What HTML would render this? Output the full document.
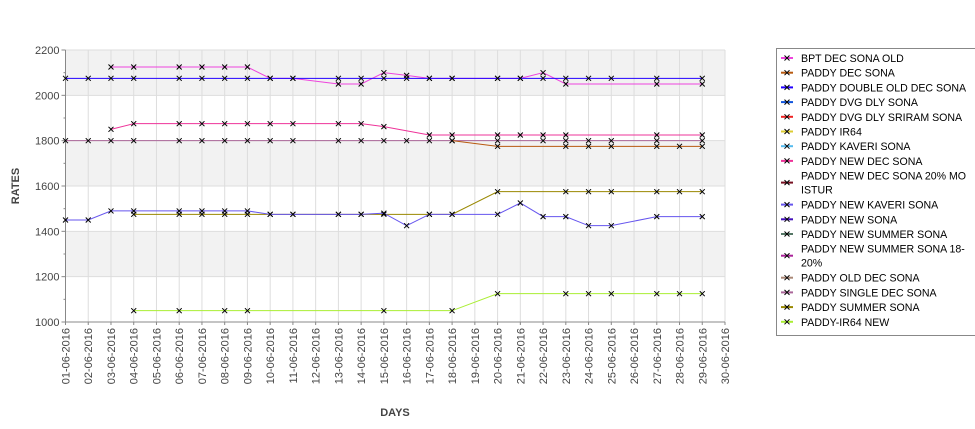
<!DOCTYPE html>
<html><head><meta charset="utf-8"><style>
body{margin:0;background:#fff;font-family:"Liberation Sans","DejaVu Sans",sans-serif}
svg{display:block}
</style></head><body>
<svg id="c" width="975" height="429" xmlns="http://www.w3.org/2000/svg"></svg>
<script>
const days=["01-06-2016","02-06-2016","03-06-2016","04-06-2016","05-06-2016","06-06-2016","07-06-2016","08-06-2016","09-06-2016","10-06-2016","11-06-2016","12-06-2016","13-06-2016","14-06-2016","15-06-2016","16-06-2016","17-06-2016","18-06-2016","19-06-2016","20-06-2016","21-06-2016","22-06-2016","23-06-2016","24-06-2016","25-06-2016","26-06-2016","27-06-2016","28-06-2016","29-06-2016","30-06-2016"];
const yTicks=[1000,1200,1400,1600,1800,2000,2200];
const legendNames=["BPT DEC SONA OLD","PADDY DEC SONA","PADDY DOUBLE OLD DEC SONA","PADDY DVG DLY SONA","PADDY DVG DLY SRIRAM SONA","PADDY IR64","PADDY KAVERI SONA","PADDY NEW DEC SONA","PADDY NEW DEC SONA 20% MO|ISTUR","PADDY NEW KAVERI SONA","PADDY NEW SONA","PADDY NEW SUMMER SONA","PADDY NEW SUMMER SONA 18-|20%","PADDY OLD DEC SONA","PADDY SINGLE DEC SONA","PADDY SUMMER SONA","PADDY-IR64 NEW"];
const legendColors=["#ee44dd","#b85a10","#2200ff","#1155dd","#ee2222","#ddcc33","#55bbee","#ee3399","#771122","#6655ee","#4411bb","#557766","#aa2299","#aa8877","#aa6699","#998800","#aaee33"];
const bptDecSonaOld=[[3,2125],[4,2125],[6,2125],[7,2125],[8,2125],[9,2125],[10,2075],[11,2075],[13,2050],[14,2050],[15,2100],[16,2088],[17,2075],[18,2075],[20,2075],[21,2075],[22,2100],[23,2050],[27,2050],[29,2050]];
const doubleOldDecSona=[[1,2075],[2,2075],[3,2075],[4,2075],[6,2075],[7,2075],[8,2075],[9,2075],[10,2075],[11,2075],[13,2075],[14,2075],[15,2075],[16,2075],[17,2075],[18,2075],[20,2075],[21,2075],[22,2075],[23,2075],[24,2075],[25,2075],[27,2075],[29,2075]];
const newDecSona=[[3,1850],[4,1875],[6,1875],[7,1875],[8,1875],[9,1875],[10,1875],[11,1875],[13,1875],[14,1875],[15,1862],[17,1825],[18,1825],[20,1825],[21,1825],[22,1825],[23,1825],[27,1825],[29,1825]];
const singleDecSona=[[1,1800],[2,1800],[3,1800],[4,1800],[6,1800],[7,1800],[8,1800],[9,1800],[10,1800],[11,1800],[13,1800],[14,1800],[15,1800],[16,1800],[17,1800],[18,1800],[20,1800],[22,1800],[23,1800],[24,1800],[25,1800],[27,1800],[29,1800]];
const decSona=[[18,1800],[20,1775],[23,1775],[24,1775],[25,1775],[27,1775],[28,1775],[29,1775]];
const summerSona=[[4,1475],[6,1475],[7,1475],[8,1475],[9,1475],[10,1475],[11,1475],[13,1475],[14,1475],[15,1475],[17,1475],[18,1475],[20,1575],[23,1575],[24,1575],[25,1575],[27,1575],[28,1575],[29,1575]];
const newKaveriSona=[[1,1450],[2,1450],[3,1490],[4,1490],[6,1490],[7,1490],[8,1490],[9,1490],[10,1475],[11,1475],[13,1475],[14,1475],[15,1480],[16,1425],[17,1475],[18,1475],[20,1475],[21,1525],[22,1465],[23,1465],[24,1425],[25,1425],[27,1465],[29,1465]];
const ir64New=[[4,1050],[6,1050],[8,1050],[9,1050],[15,1050],[18,1050],[20,1125],[23,1125],[24,1125],[25,1125],[27,1125],[28,1125],[29,1125]];
const seriesList=[[singleDecSona,"#aa6699","paddy-single-dec-sona"],[decSona,"#b85a10","paddy-dec-sona"],[newDecSona,"#ee3399","paddy-new-dec-sona"],[bptDecSonaOld,"#ee44dd","bpt-dec-sona-old"],[doubleOldDecSona,"#2200ff","paddy-double-old-dec-sona"],[summerSona,"#998800","paddy-summer-sona"],[newKaveriSona,"#6655ee","paddy-new-kaveri-sona"],[ir64New,"#aaee33","paddy-ir64-new"]];

const svg=document.getElementById('c');const NS="http://www.w3.org/2000/svg";
const L=65.5,R=725,T=50,B=322;
const x=d=>L+(d-1)*(R-L)/29;
const y=v=>B-(v-1000)*(B-T)/1200;
function el(t,a,p){const e=document.createElementNS(NS,t);for(const k in a)e.setAttribute(k,a[k]);(p||svg).appendChild(e);return e;}
for(let i=0;i<yTicks.length-1;i++){
 if(i%2===1){const r=el('rect',{x:L,y:y(yTicks[i+1]),width:R-L,height:y(yTicks[i])-y(yTicks[i+1]),fill:'#f2f2f2'});
 
 }
}
days.forEach((d,i)=>{const g=el('line',{x1:x(i+1),x2:x(i+1),y1:T,y2:B,stroke:'#dddddd','stroke-width':1});

});
yTicks.forEach(v=>{const g=el('line',{x1:L,x2:R,y1:y(v),y2:y(v),stroke:'#dddddd','stroke-width':1});


const t=el('text',{x:L-6,y:y(v)+4,'text-anchor':'end','font-size':11,fill:'#444'});t.textContent=v;


el('line',{x1:L-4,x2:L,y1:y(v),y2:y(v),stroke:'#888'});
if(v<2200)el('line',{x1:L-2,x2:L,y1:y(v+100),y2:y(v+100),stroke:'#888'});});
el('line',{x1:L,x2:L,y1:T,y2:B,stroke:'#888'});
el('line',{x1:L,x2:R,y1:B,y2:B,stroke:'#888'});
days.forEach((d,i)=>{const xx=x(i+1);el('line',{x1:xx,x2:xx,y1:B,y2:B+3,stroke:'#888'});
const t=el('text',{x:0,y:0,transform:`translate(${xx+4},${B+6}) rotate(-90)`,'text-anchor':'end','font-size':11,fill:'#444'});t.textContent=d;

});
const yt=el('text',{x:0,y:0,transform:`translate(19,186) rotate(-90)`,'text-anchor':'middle','font-size':11,'font-weight':'bold',fill:'#444'});yt.textContent='RATES';


const xt=el('text',{x:395,y:416,'text-anchor':'middle','font-size':11,'font-weight':'bold',fill:'#444'});xt.textContent='DAYS';


seriesList.forEach(([data,col,name])=>{
 const p=el('polyline',{points:data.map(([d,v])=>x(d)+','+y(v)).join(' '),fill:'none',stroke:col,'stroke-width':1});
 
 
 data.forEach(([d,v])=>{const m=el('path',{d:`M${x(d)-2.5},${y(v)-2.5}l5,5m0,-5l-5,5`,stroke:'#000','stroke-width':1});
 
 });
});
const lg=el('g',{});


el('rect',{x:776.5,y:48.5,width:205,height:287,fill:'#fff',stroke:'#888'},lg);
let ly=58;
legendNames.forEach((n,i)=>{const parts=n.split('|');const cy=parts.length>1?ly+7:ly;
 const g=el('g',{},lg);
 
 
 el('line',{x1:781,x2:793,y1:cy,y2:cy,stroke:legendColors[i],'stroke-width':2},g);
 el('path',{d:`M${784.5},${cy-2.5}l5,5m0,-5l-5,5`,stroke:'#000'},g);
 parts.forEach((p,j)=>{const t=el('text',{x:801,y:ly+4+j*14,'font-size':10.6,fill:'#000'},g);t.textContent=p;});
 ly+=parts.length>1?29:14.7;});
</script>
</body></html>
